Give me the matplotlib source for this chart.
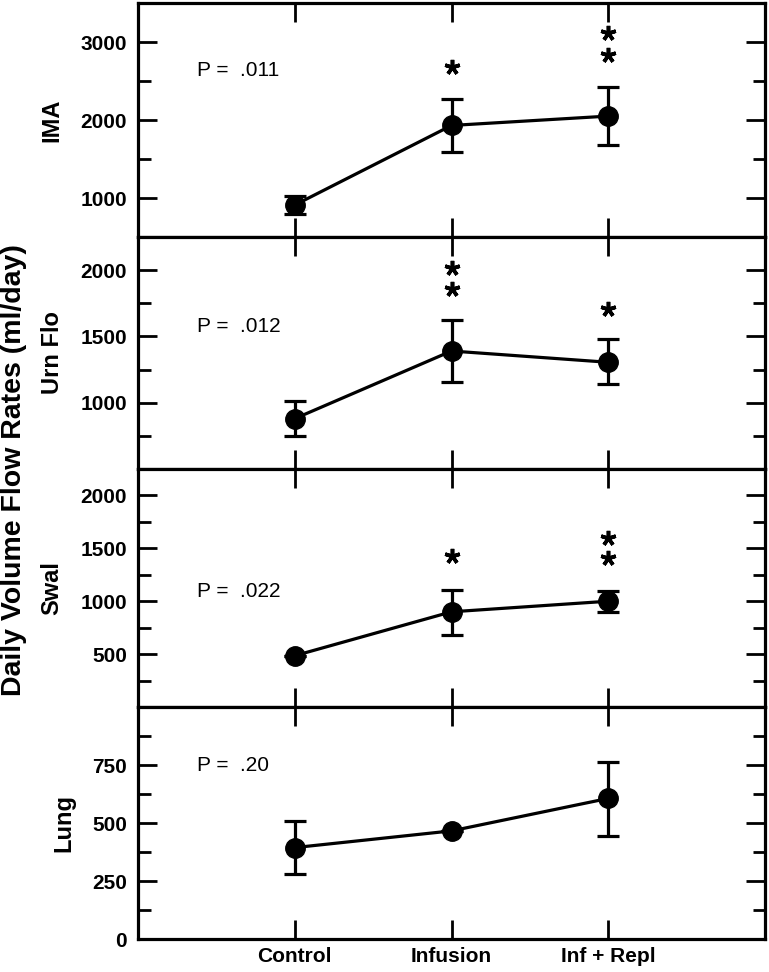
import matplotlib
matplotlib.use('Agg')
import matplotlib.pyplot as plt
from matplotlib.ticker import MultipleLocator

plt.rcParams['font.family'] = ['Liberation Sans', 'DejaVu Sans']

# categorias
grupos = ['Control', 'Infusion', 'Inf + Repl']
xpos = [1, 2, 3]

# valores (media, limite superior, limite inferior)
ima = [910, 1930, 2050]
ima_sup = [1030, 2270, 2420]
ima_inf = [800, 1590, 1680]

urn = [880, 1390, 1305]
urn_sup = [1010, 1625, 1477]
urn_inf = [750, 1160, 1143]

swal = [485, 900, 1000]
swal_sup = [485, 1110, 1100]
swal_inf = [485, 680, 900]

lung = [394, 466, 606]
lung_sup = [508, 466, 765]
lung_inf = [280, 466, 445]

# asteriscos (posicion y de cada uno)
ima_stars = [[], [2680], [2833, 3115]]
urn_stars = [[], [1860, 2015], [1710]]
swal_stars = [[], [1425], [1405, 1600]]
lung_stars = [[], [], []]

p_textos = ['P =  .011', 'P =  .012', 'P =  .022', 'P =  .20']
p_y = [2640, 1575, 1090, 750]
etiquetas = ['IMA', 'Urn Flo', 'Swal', 'Lung']
limites = [(500, 3500), (500, 2250), (0, 2250), (0, 1000)]
mayores = [1000, 500, 500, 250]
marcas = [[1000, 2000, 3000], [1000, 1500, 2000], [500, 1000, 1500, 2000], [0, 250, 500, 750]]

datos = [(ima, ima_sup, ima_inf, ima_stars),
         (urn, urn_sup, urn_inf, urn_stars),
         (swal, swal_sup, swal_inf, swal_stars),
         (lung, lung_sup, lung_inf, lung_stars)]

fig = plt.figure(figsize=(7.69, 9.72), dpi=100)
bordes = [3, 237, 469, 707, 939]
izq = 138 / 769
ancho = 627 / 769

for k in range(4):
    top = 1 - bordes[k] / 972
    bot = 1 - bordes[k + 1] / 972
    ax = fig.add_axes([izq, bot, ancho, top - bot])
    media, sup, inf, stars = datos[k]
    yerr = [[m - l for m, l in zip(media, inf)], [s - m for m, s in zip(media, sup)]]
    ax.errorbar(xpos, media, yerr=yerr, fmt='o-', color='black', ms=14, lw=2.3,
                elinewidth=2.3, capsize=8, capthick=2.3)
    # asteriscos de significancia
    for i, ys in enumerate(stars):
        if ys:
            ax.plot([xpos[i]] * len(ys), ys, ls='none', marker=(5, 2, 0), ms=11,
                    mew=2.6, color='black')
    ax.set_xlim(0, 4)
    ax.set_ylim(*limites[k])
    ax.set_xticks(xpos)
    ax.set_yticks(marcas[k])
    ax.yaxis.set_minor_locator(MultipleLocator(mayores[k] / 2))
    ax.tick_params(axis='both', which='major', direction='in', length=14, width=2,
                   top=True, right=True, labelsize=15)
    ax.tick_params(axis='y', which='minor', direction='in', length=9, width=2, right=True)
    ax.tick_params(axis='y', pad=8)
    for lab in ax.get_yticklabels():
        lab.set_fontweight('bold')
    if k < 3:
        ax.set_xticklabels([])
    else:
        ax.set_xticklabels(grupos, fontweight='bold', fontsize=15)
        ax.tick_params(axis='x', pad=6)
    for sp in ax.spines.values():
        sp.set_linewidth(2.3)
    ax.set_ylabel(etiquetas[k], fontsize=17, fontweight='bold', labelpad=12)
    ax.text(0.375, p_y[k], p_textos[k], fontsize=15, va='center')

fig.text(0.018, 1 - 470 / 972, 'Daily Volume Flow Rates (ml/day)', rotation=90, fontsize=20.5,
         fontweight='bold', ha='center', va='center')

fig.savefig('out.png', dpi=100)
